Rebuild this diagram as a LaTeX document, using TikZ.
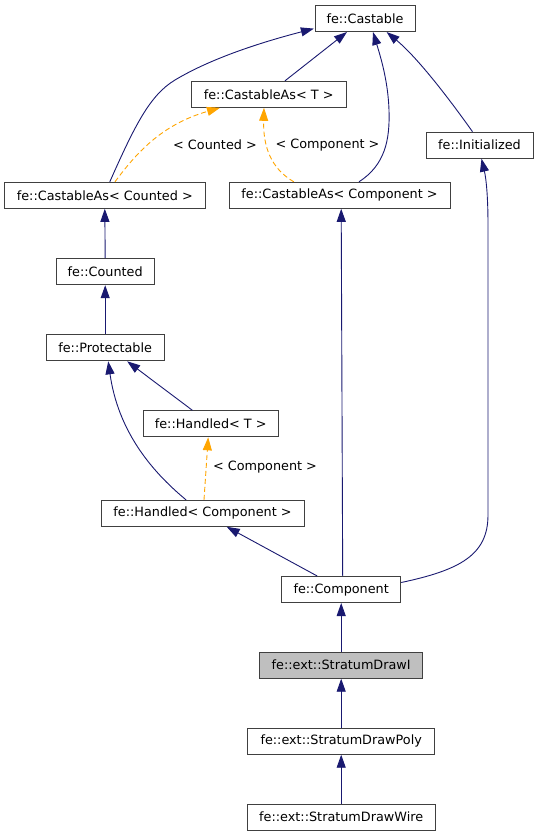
\documentclass[tikz,border=0pt]{standalone}
\usepackage{fontspec}
\setmainfont{DejaVu Sans}
\usetikzlibrary{arrows.meta}
\definecolor{navy}{HTML}{191970}
\definecolor{tmpl}{HTML}{FFA500}
\definecolor{bord}{HTML}{404040}
\begin{document}
\begin{tikzpicture}[x=1pt,y=-1pt,
  cls/.style={draw=bord,line width=1pt,fill=white,minimum height=26pt,inner sep=0pt,font=\fontsize{12.8}{15}\selectfont},
  cur/.style={cls,fill=black!25},
  inh/.style={navy,line width=0.9pt,-{Triangle[length=13pt,width=9pt]}},
  tpl/.style={tmpl,line width=0.9pt,dashed,dash pattern=on 5pt off 3pt,-{Triangle[length=13pt,width=9pt]}},
  lbl/.style={font=\fontsize{12.8}{15}\selectfont,inner sep=0pt}]
\useasboundingbox (0,0) rectangle (539,836);
\node[cls,minimum width=100pt] (cast) at (365,18.5) {fe::Castable};
\node[cls,minimum width=154.6pt] (cat) at (268.7,94.3) {fe::CastableAs< T >};
\node[cls,minimum width=107pt] (init) at (479.5,145.2) {fe::Initialized};
\node[cls,minimum width=200.5pt] (cac) at (104.8,195.3) {fe::CastableAs< Counted >};
\node[cls,minimum width=221pt] (cas) at (339.5,195.3) {fe::CastableAs< Component >};
\node[cls,minimum width=97.6pt] (cnt) at (105.2,271.7) {fe::Counted};
\node[cls,minimum width=117.6pt] (prot) at (105.2,347.8) {fe::Protectable};
\node[cls,minimum width=135.4pt] (ht) at (210.7,423.8) {fe::Handled< T >};
\node[cls,minimum width=203pt] (hc) at (202.5,513.3) {fe::Handled< Component >};
\node[cls,minimum width=119pt] (comp) at (341.2,589.5) {fe::Component};
\node[cur,minimum width=163pt] (sdi) at (341.2,665.2) {fe::ext::StratumDrawI};
\node[cls,minimum width=187pt] (sdp) at (341.2,741.2) {fe::ext::StratumDrawPoly};
\node[cls,minimum width=188pt] (sdw) at (341.2,817.2) {fe::ext::StratumDrawWire};
% inheritance edges
\draw[inh] ([xshift=5pt]cac.north) .. controls (135,125) and (150,95) .. (175,80)
  .. controls (215,56) and (270,40) .. ([xshift=-0.6pt,yshift=3.4pt]cast.south west);
\draw[inh] ([xshift=16.3pt]cat.north) -- ([xshift=-18pt]cast.south);
\draw[inh] ([xshift=19.5pt]cas.north) .. controls (385,165) and (390,140) .. (389,110)
  .. controls (388,80) and (380,55) .. ([xshift=8pt]cast.south);
\draw[inh] ([xshift=-7pt]init.north) .. controls (450,100) and (418,58) .. ([xshift=21.6pt]cast.south);
\draw[inh] (cnt.north) -- (cac.south);
\draw[inh] (prot.north) -- (cnt.south);
\draw[inh] ([xshift=-18.3pt]ht.north) -- ([xshift=22pt]prot.south);
\draw[inh] ([xshift=-16.5pt]hc.north) .. controls (150,470) and (118,430) .. ([xshift=3pt]prot.south);
\draw[inh] ([xshift=-24pt]comp.north) -- ([xshift=24.2pt]hc.south);
\draw[inh] ([xshift=1.5pt]comp.north) -- ([xshift=1.7pt]cas.south);
\draw[inh] ([yshift=7pt]comp.east) .. controls (460,570) and (488,555) .. (488,515)
  -- (488,225) .. controls (488,195) and (486,178) .. ([xshift=2pt]init.south);
\draw[inh] (sdi.north) -- (comp.south);
\draw[inh] (sdp.north) -- (sdi.south);
\draw[inh] (sdw.north) -- (sdp.south);
% template edges
\draw[tpl] ([xshift=10.2pt]cac.north) .. controls (135,155) and (160,125) .. ([xshift=-48.7pt]cat.south);
\draw[tpl] ([xshift=-45.7pt]cas.north) .. controls (270,168) and (263,145) .. ([xshift=-4.7pt]cat.south);
\draw[tpl] ([xshift=1.5pt]hc.north) -- ([xshift=-2.5pt]ht.south);
\node[lbl] (l1) at (215,145) {< Counted >};
\node[lbl] (l2) at (327.5,145) {< Component >};
\node[lbl] (l3) at (265,467) {< Component >};
\end{tikzpicture}
\end{document}
